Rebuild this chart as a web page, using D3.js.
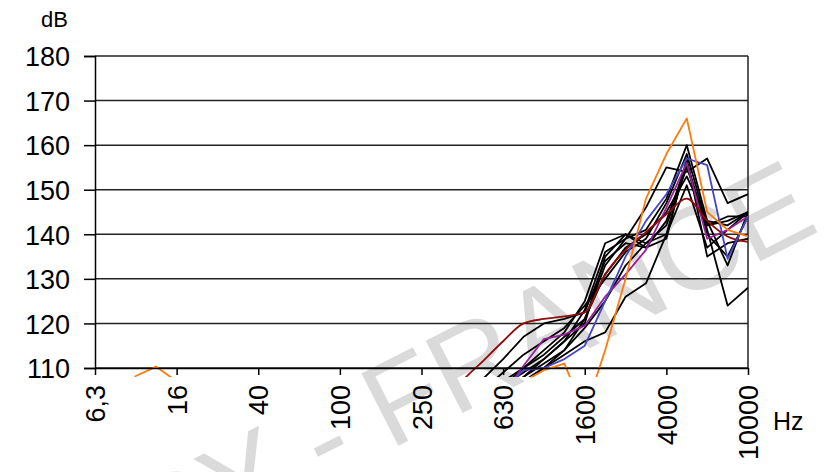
<!DOCTYPE html>
<html>
<head>
<meta charset="utf-8">
<script src="https://cdn.jsdelivr.net/npm/d3@7"></script>
<style>
  body { margin: 0; background: #fff; }
  svg { display: block; font-family: "Liberation Sans", Arial, sans-serif; }
  .grid line { stroke: #222; stroke-width: 1.5; }
  .series { fill: none; stroke-width: 1.8; stroke-linejoin: round; }
</style>
</head>
<body>
<svg id="chart" width="828" height="472"></svg>
<script>
// third-octave bands, 6,3 Hz .. 10 kHz
const bands = ["6,3", "8", "10", "12,5", "16", "20", "25", "31,5", "40", "50", "63", "80", "100", "125", "160",
    "200", "250", "315", "400", "500", "630", "800", "1000", "1250", "1600", "2000", "2500", "3150", "4000",
    "5000", "6300", "8000", "10000"];
const tickBands = ["6,3", "16", "40", "100", "250", "630", "1600", "4000", "10000"];
const yTicks = [110, 120, 130, 140, 150, 160, 170, 180];

// upper bands, 315 Hz .. 10 kHz (used by most series)
const highBands = bands.slice(17);

// black curves (dB, 315 .. 10000 Hz)
const black1 = [95, 99, 102, 105, 108, 112, 116, 123, 136, 139, 141, 148, 160, 143, 142, 145];
const black2 = [94, 98, 101, 104, 107, 110, 114, 121, 133, 139, 146, 155, 154, 157, 147, 149];
const black3 = [96, 100, 103, 106, 110, 114, 118, 125, 138, 140, 138, 140, 156, 141, 124, 128];
const black4 = [99, 104, 107.5, 112, 117, 120, 121, 122.5, 134, 138, 137, 139, 157, 135, 138, 139];
const black5 = [95, 99, 103, 107, 110, 113, 117, 121, 131, 137, 140, 145, 153, 143, 133, 145];
const black6 = [93, 97, 101, 104, 107, 110, 113, 116, 118, 126, 129, 140, 151, 137, 141, 145];
const black7 = [97, 101, 105, 109, 113, 116, 119, 124, 130, 136, 139, 147, 158, 142, 144, 144];
const black8 = [94, 98, 102, 106, 109, 112, 116, 120, 135, 140, 137, 143, 156, 140, 135, 144];
const black9 = [92, 96, 100, 104, 108, 111, 114, 119, 125, 133, 138, 142, 155, 142, 143, 145];

// coloured curves
const blue = [92, 97, 101, 105, 109.5, 110, 112, 115, 125, 135, 143, 149, 157, 155.5, 134.5, 144];
const purple = [92, 96, 100, 104, 110.5, 116.5, 117.5, 119.5, 126, 131, 136.5, 146, 156, 139, 141, 144];
const darkRed = [100, 107, 111.5, 116, 120, 121, 121.6, 122.5, 131, 136.5, 140.5, 144.5, 148, 143, 139.5, 138.3];
// orange covers the whole range (6,3 .. 10000 Hz)
const orange = [96, 100, 108.2, 110.3, 107, 99, 95, 94, 93, 93, 92, 92, 92, 92, 93, 94, 96, 98, 100, 103,
    105, 107, 109.5, 111, 100, 114, 130, 148, 158, 166, 145, 141, 139.5];

const series = [
    { values: black1, band: highBands, color: "#000" },
    { values: black2, band: highBands, color: "#000" },
    { values: black3, band: highBands, color: "#000" },
    { values: black4, band: highBands, color: "#000" },
    { values: black5, band: highBands, color: "#000" },
    { values: black6, band: highBands, color: "#000" },
    { values: black7, band: highBands, color: "#000" },
    { values: black8, band: highBands, color: "#000" },
    { values: black9, band: highBands, color: "#000" },
    { values: purple, band: highBands, color: "#9b1f9b" },
    { values: darkRed, band: highBands, color: "#940a0a", smooth: true },
    { values: blue, band: highBands, color: "#4646c8" },
    { values: orange, band: bands, color: "#ff7a0a" }
];

const svg = d3.select("#chart");
const margin = { left: 95, right: 80, top: 56, bottom: 104 };
const width = +svg.attr("width"), height = +svg.attr("height");
const plotW = 748 - margin.left, plotH = height - margin.top - margin.bottom;

const x = d3.scalePoint().domain(bands).range([0, plotW]);
const y = d3.scaleLinear().domain([110, 180]).range([plotH, 0]);

// watermark behind everything (runs off the page on purpose, as in the original)
svg.append("text")
    .attr("transform", "translate(822,230) rotate(-27)")
    .attr("text-anchor", "end")
    .attr("fill", "#dadada")
    .style("font-size", "118px")
    .text("COPY - FRANCE");

const g = svg.append("g").attr("transform", "translate(" + margin.left + "," + margin.top + ")");

// horizontal grid
g.append("g").attr("class", "grid")
    .selectAll("line")
    .data(yTicks)
    .enter().append("line")
    .attr("x1", 0).attr("x2", plotW)
    .attr("y1", d => y(d)).attr("y2", d => y(d));

// right frame
g.append("line")
    .attr("x1", plotW).attr("x2", plotW)
    .attr("y1", 0).attr("y2", plotH)
    .attr("stroke", "#222").attr("stroke-width", 1.5);

// curves can run a little below 110 dB before they are cut
g.append("clipPath").attr("id", "clip")
    .append("rect").attr("x", 0).attr("y", -5).attr("width", plotW).attr("height", plotH + 14);

const lines = g.append("g").attr("clip-path", "url(#clip)");
for (let s of series) {
    let line = d3.line()
        .x((d, i) => x(s.band[i]))
        .y(d => y(d))
        .curve(s.smooth ? d3.curveMonotoneX : d3.curveLinear);
    lines.append("path")
        .attr("class", "series")
        .attr("stroke", s.color)
        .attr("d", line(s.values));
}

// axes
const yAxis = g.append("g")
    .call(d3.axisLeft(y).tickValues(yTicks).tickSize(11).tickPadding(14));
yAxis.select(".domain").attr("stroke", "#000").attr("stroke-width", 1.5);
yAxis.selectAll(".tick line").attr("stroke", "#000").attr("stroke-width", 1.5);
yAxis.selectAll(".tick text")
    .attr("fill", "#000")
    .style("font-size", "27px")
    .attr("dy", "0.36em");

const xAxis = g.append("g")
    .attr("transform", "translate(0," + plotH + ")")
    .call(d3.axisBottom(x).tickValues(tickBands).tickSize(7).tickSizeOuter(0));
xAxis.select(".domain").attr("stroke", "#000").attr("stroke-width", 1.5);
xAxis.selectAll(".tick line").attr("stroke", "#000").attr("stroke-width", 1.5);
xAxis.selectAll(".tick text")
    .attr("fill", "#000")
    .style("font-size", "27px")
    .attr("transform", "rotate(-90)")
    .attr("text-anchor", "end")
    .attr("x", -17)
    .attr("y", 0)
    .attr("dy", "0.36em");

// unit labels
svg.append("text")
    .attr("x", 68).attr("y", 27)
    .attr("text-anchor", "end")
    .style("font-size", "22px")
    .text("dB");
svg.append("text")
    .attr("x", 773).attr("y", 430)
    .style("font-size", "25px")
    .text("Hz");
</script>
</body>
</html>
